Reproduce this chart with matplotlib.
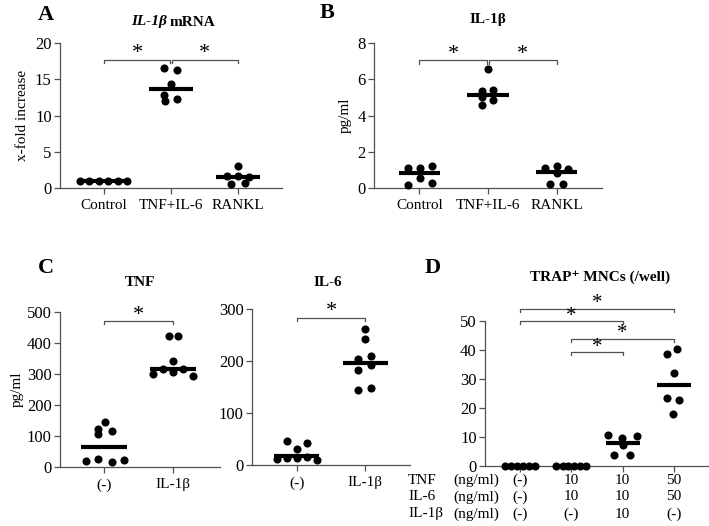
import matplotlib
matplotlib.use('Agg')
import matplotlib.pyplot as plt
import numpy as np

plt.rcParams['font.family'] = ['Liberation Serif', 'DejaVu Serif']

# ---- data ----
a_groups = ['Control', 'TNF+IL-6', 'RANKL']
a_control = [1.0, 1.0, 1.0, 1.0, 1.0, 1.0]
a_tnf_il6 = [16.5, 16.3, 14.3, 12.8, 12.3, 12.0]
a_rankl = [3.0, 1.6, 1.6, 1.5, 0.6, 0.7]
a_median = [1.0, 13.65, 1.5]

b_groups = ['Control', 'TNF+IL-6', 'RANKL']
b_control = [1.09, 1.09, 1.22, 0.55, 0.15, 0.27]
b_tnf_il6 = [6.55, 5.35, 5.42, 5.0, 4.6, 4.84]
b_rankl = [1.11, 1.2, 1.05, 0.84, 0.24, 0.24]
b_median = [0.82, 5.15, 0.9]

c_groups = ['(-)', 'IL-1β']
c_tnf_ctrl = [145, 124, 115, 105, 18, 25, 16, 21]
c_tnf_il1b = [423, 423, 343, 300, 316, 306, 316, 294]
c_tnf_median = [65, 316]
c_il6_ctrl = [47, 31, 42, 12, 13, 13, 15, 10]
c_il6_il1b = [261, 242, 204, 210, 193, 182, 145, 148]
c_il6_median = [17, 197]

d_none = [0, 0, 0, 0, 0, 0]
d_tnf_il6_10 = [0, 0, 0, 0, 0, 0]
d_all_10 = [10.7, 9.7, 10.3, 7.2, 3.8, 3.8]
d_tnf_il6_50 = [40.5, 38.5, 32.2, 23.5, 22.7, 17.9]
d_median = [0, 0, 8.0, 28.0]
d_rows = ['TNF', 'IL-6', 'IL-1β']
d_tnf = ['(-)', '10', '10', '50']
d_il6 = ['(-)', '10', '10', '50']
d_il1b = ['(-)', '(-)', '10', '(-)']

# ---- layout: horizontal jitter of dots ----
even6 = [-0.29, -0.17, -0.06, 0.06, 0.17, 0.29]
a_offsets = [[-0.36, -0.22, -0.08, 0.06, 0.2, 0.34],
             [-0.1, 0.09, 0.0, -0.1, 0.09, -0.09],
             [0.0, -0.16, 0.0, 0.16, -0.1, 0.1]]
b_offsets = [[-0.16, 0.01, 0.19, 0.01, -0.16, 0.19],
             [0.0, -0.09, 0.08, -0.09, -0.09, 0.08],
             [-0.17, 0.0, 0.17, 0.0, -0.09, 0.09]]
c_tnf_offsets = [[0.01, -0.09, 0.12, -0.09, -0.26, -0.09, 0.12, 0.29],
                 [-0.06, 0.07, 0.0, -0.29, -0.14, 0.0, 0.14, 0.29]]
c_il6_offsets = [[-0.15, 0.0, 0.15, -0.3, -0.15, 0.0, 0.15, 0.29],
                 [0.0, 0.0, -0.1, 0.09, 0.09, -0.1, -0.1, 0.09]]
d_offsets = [even6, even6,
             [-0.29, -0.02, 0.27, 0.0, -0.16, 0.14],
             [0.06, -0.14, 0.0, -0.14, 0.1, -0.02]]

W, H = 709, 526
fig = plt.figure(figsize=(W / 100, H / 100), dpi=100)


def px_axes(x0, x1, ytop, ybot):
    return fig.add_axes([x0 / W, 1 - ybot / H, (x1 - x0) / W, (ybot - ytop) / H])


def style(ax, xlim, ylim, yticks, xlabels):
    ax.set_xlim(*xlim)
    ax.set_ylim(*ylim)
    ax.set_yticks(yticks)
    ax.set_xticks(range(len(xlabels)))
    ax.set_xticklabels(xlabels, fontsize=11)
    for s in ['top', 'right']:
        ax.spines[s].set_visible(False)
    for s in ['left', 'bottom']:
        ax.spines[s].set_color('#505050')
        ax.spines[s].set_linewidth(0.9)
    ax.tick_params(axis='both', color='#505050', length=4, width=0.9)
    ax.tick_params(axis='y', labelsize=12, pad=2)
    ax.tick_params(axis='x', pad=4)


def dots(ax, groups, offsets, medians, half=0.32):
    for i, (vals, offs) in enumerate(zip(groups, offsets)):
        ax.scatter(np.array(offs) + i, vals, s=34, color='black', zorder=3,
                   clip_on=False, linewidths=0)
        ax.plot([i - half, i + half], [medians[i], medians[i]], color='black',
                lw=3, solid_capstyle='butt', zorder=2, clip_on=False)


def bracket(ax, x0, x1, y, tick, size=16, dy=1.0):
    ax.plot([x0, x0, x1, x1], [y - tick, y, y, y - tick], color='#505050',
            lw=0.9, clip_on=False)
    ax.annotate('*', xy=((x0 + x1) / 2, y), xytext=(0, dy),
                textcoords='offset points', ha='center', va='baseline',
                fontsize=size, annotation_clip=False)


# ---- A ----
axA = px_axes(60, 282, 43, 188)
dots(axA, [a_control, a_tnf_il6, a_rankl], a_offsets, a_median, 0.33)
style(axA, (-0.66, 2.66), (0, 20), [0, 5, 10, 15, 20], a_groups)
axA.set_ylabel('x-fold increase', fontsize=11, labelpad=4)
bracket(axA, 0, 0.985, 17.7, 0.45)
bracket(axA, 1.015, 2, 17.7, 0.45)
fig.text(167 / W, 1 - 22 / H, 'IL-1β', fontsize=11, fontweight='bold',
         style='italic', ha='right', va='center')
fig.text(170 / W, 1 - 22 / H, 'mRNA', fontsize=11, fontweight='bold',
         ha='left', va='center')
fig.text(38 / W, 1 - 15 / H, 'A', fontsize=16, fontweight='bold', va='center')

# ---- B ----
axB = px_axes(374, 602, 43, 188)
dots(axB, [b_control, b_tnf_il6, b_rankl], b_offsets, b_median, 0.3)
style(axB, (-0.66, 2.66), (0, 8), [0, 2, 4, 6, 8], b_groups)
axB.set_ylabel('pg/ml', fontsize=11, labelpad=4)
bracket(axB, 0, 0.985, 7.04, 0.18)
bracket(axB, 1.015, 2, 7.04, 0.18)
fig.text(488 / W, 1 - 20 / H, 'IL-1β', fontsize=11, fontweight='bold',
         ha='center', va='center')
fig.text(320 / W, 1 - 13 / H, 'B', fontsize=16, fontweight='bold', va='center')

# ---- C: TNF ----
axC1 = px_axes(60, 220, 312, 467)
dots(axC1, [c_tnf_ctrl, c_tnf_il1b], c_tnf_offsets, c_tnf_median, 0.33)
style(axC1, (-0.64, 1.68), (0, 500), [0, 100, 200, 300, 400, 500], c_groups)
axC1.set_ylabel('pg/ml', fontsize=11, labelpad=2)
bracket(axC1, 0, 1, 470, 10)
fig.text(140 / W, 1 - 282 / H, 'TNF', fontsize=11, fontweight='bold',
         ha='center', va='center')
fig.text(38 / W, 1 - 268 / H, 'C', fontsize=16, fontweight='bold', va='center')

# ---- C: IL-6 ----
axC2 = px_axes(252, 410, 309, 465)
dots(axC2, [c_il6_ctrl, c_il6_il1b], c_il6_offsets, c_il6_median, 0.33)
style(axC2, (-0.66, 1.66), (0, 300), [0, 100, 200, 300], c_groups)
bracket(axC2, 0, 1, 283, 6)
fig.text(328 / W, 1 - 282 / H, 'IL-6', fontsize=11, fontweight='bold',
         ha='center', va='center')

# ---- D ----
axD = px_axes(485, 708, 321, 466)
dots(axD, [d_none, d_tnf_il6_10, d_all_10, d_tnf_il6_50], d_offsets, d_median, 0.33)
style(axD, (-0.68, 3.66), (0, 50), [0, 10, 20, 30, 40, 50], ['', '', '', ''])
bracket(axD, 0, 3, 54.2, 1.1, 15, 0.3)
bracket(axD, 0, 2, 50.0, 1.1, 15, 0.3)
bracket(axD, 1, 3, 43.9, 1.1, 15, 0.3)
bracket(axD, 1, 2, 39.3, 1.1, 15, 0.3)
fig.text(600 / W, 1 - 277 / H, 'TRAP⁺ MNCs (/well)', fontsize=11,
         fontweight='bold', ha='center', va='center')
fig.text(425 / W, 1 - 268 / H, 'D', fontsize=16, fontweight='bold', va='center')

row_y = [480, 497, 514]
for name, vals, y in zip(d_rows, [d_tnf, d_il6, d_il1b], row_y):
    fig.text(408 / W, 1 - y / H, name, fontsize=11, ha='left', va='center')
    fig.text(453 / W, 1 - y / H, '(ng/ml)', fontsize=11, ha='left', va='center')
    for i, v in enumerate(vals):
        xf = axD.transData.transform((i, 0))[0] / fig.bbox.width
        fig.text(xf, 1 - y / H, v, fontsize=11, ha='center', va='center')

fig.savefig('out.png', dpi=100)
